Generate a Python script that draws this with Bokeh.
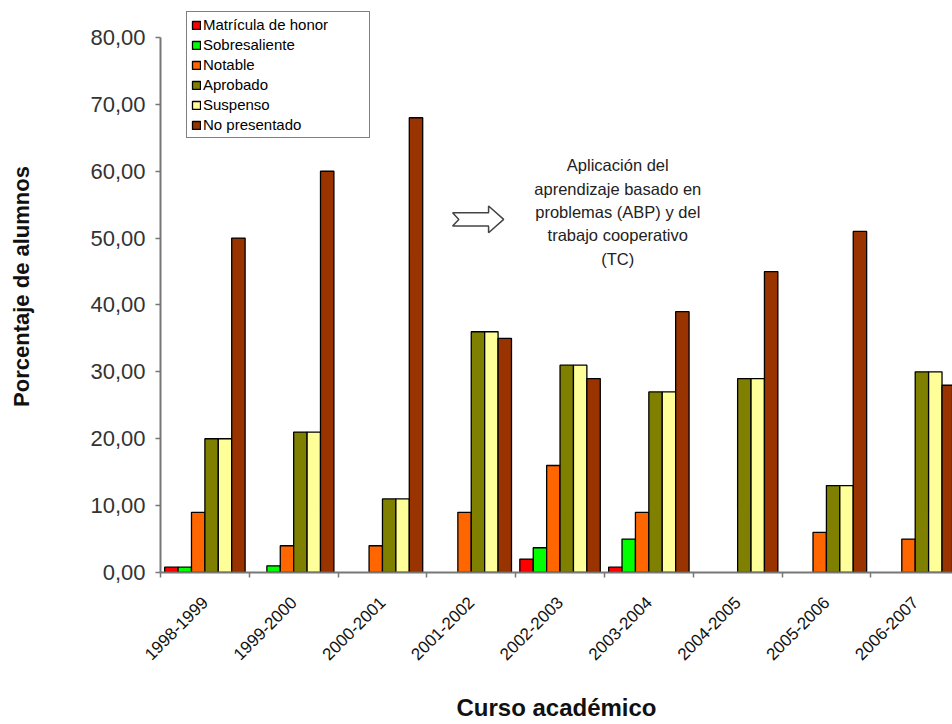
import math

from bokeh.core.properties import value
from bokeh.embed import file_html
from bokeh.models import (ColumnDataSource, CustomJSTickFormatter, FixedTicker,
                          Legend, LegendItem, Range1d)
from bokeh.plotting import figure
from bokeh.resources import INLINE
from bokeh.transform import dodge

# Academic years
cursos = ["1998-1999", "1999-2000", "2000-2001", "2001-2002", "2002-2003",
          "2003-2004", "2004-2005", "2005-2006", "2006-2007"]

# Percentage of students per grade
matricula = [0.8, 0, 0, 0, 2, 0.8, 0, 0, 0]
sobresaliente = [0.8, 1, 0, 0, 3.7, 5, 0, 0, 0]
notable = [9, 4, 4, 9, 16, 9, 0, 6, 5]
aprobado = [20, 21, 11, 36, 31, 27, 29, 13, 30]
suspenso = [20, 21, 11, 36, 31, 27, 29, 13, 30]
no_presentado = [50, 60, 68, 35, 29, 39, 45, 51, 28]

series_names = ["Matrícula de honor", "Sobresaliente", "Notable",
                "Aprobado", "Suspenso", "No presentado"]
series_values = [matricula, sobresaliente, notable, aprobado, suspenso, no_presentado]
series_colors = ["#FF0000", "#00FF00", "#FF6600", "#808000", "#FFFF99", "#993300"]

y_ticks = list(range(0, 81, 10))

nota_lines = ["Aplicación del", "aprendizaje basado en", "problemas (ABP) y del",
              "trabajo cooperativo", "(TC)"]

FONT = "Liberation Sans"
BAR_W = 0.151

# the frame reaches the top edge so the legend box can sit above the 80 line
p = figure(width=952, height=724, output_backend="svg", toolbar_location=None,
           x_range=Range1d(0, 8.92), y_range=Range1d(0, 85.53),
           min_border_left=160, min_border_right=0, min_border_top=0,
           min_border_bottom=152)
p.outline_line_color = None
p.xgrid.visible = False
p.ygrid.visible = False
p.background_fill_color = "white"

centers = [i + 0.5 for i in range(len(cursos))]

items = []
for k, (name, vals, col) in enumerate(zip(series_names, series_values, series_colors)):
    xs = [c for c, v in zip(centers, vals) if v > 0]
    ys = [v for v in vals if v > 0]
    src = ColumnDataSource(dict(center=xs, top=ys))
    r = p.vbar(x=dodge("center", (k - 2.5) * BAR_W), top="top", bottom=0,
               width=BAR_W, source=src, fill_color=col,
               line_color="black", line_width=1.3)
    items.append(LegendItem(label=name, renderers=[r]))

legend = Legend(items=items, location=(26, 434))
legend.label_text_font = FONT
legend.label_text_font_size = "15px"
legend.label_text_color = "#000000"
legend.glyph_width = 10
legend.glyph_height = 10
legend.label_height = 15
legend.label_width = 162
legend.label_standoff = 2
legend.spacing = 3
legend.padding = 4
legend.margin = 0
legend.border_line_color = "black"
legend.border_line_width = 1.5
legend.background_fill_color = "white"
legend.background_fill_alpha = 1.0
p.add_layout(legend)

# x axis: tick marks between the years, labels centred on each group
xa = p.xaxis[0]
xa.ticker = FixedTicker(ticks=centers, minor_ticks=list(range(len(cursos) + 1)))
xa.formatter = CustomJSTickFormatter(args=dict(labels=cursos),
                                     code="return labels[Math.floor(tick)];")
xa.major_label_orientation = math.pi / 4
xa.major_tick_line_color = None
xa.major_tick_out = 5
xa.major_tick_in = 0
xa.minor_tick_line_color = "#777777"
xa.minor_tick_out = 5
xa.minor_tick_in = 0
xa.minor_tick_line_width = 1.5
xa.major_label_text_font = FONT
xa.major_label_text_font_size = "17px"
xa.major_label_text_color = "#111111"
xa.major_label_standoff = 22
xa.axis_line_color = "#777777"
xa.axis_line_width = 2
xa.axis_label = "Curso académico"
xa.axis_label_text_font = FONT
xa.axis_label_text_font_size = "24px"
xa.axis_label_text_font_style = "bold"
xa.axis_label_text_color = "#111111"
xa.axis_label_standoff = 26

ya = p.yaxis[0]
ya.bounds = (0, 80)
ya.ticker = FixedTicker(ticks=y_ticks, minor_ticks=[])
ya.formatter = CustomJSTickFormatter(code="return tick.toFixed(2).replace('.', ',');")
ya.major_tick_line_color = "#777777"
ya.major_tick_line_width = 1.5
ya.major_tick_out = 5
ya.major_tick_in = 0
ya.minor_tick_line_color = None
ya.major_label_text_font = FONT
ya.major_label_text_font_size = "22px"
ya.major_label_text_color = "#333333"
ya.major_label_standoff = 10
ya.axis_line_color = "#777777"
ya.axis_line_width = 2
ya.axis_label = "Porcentaje de alumnos"
ya.axis_label_text_font = FONT
ya.axis_label_text_font_size = "22px"
ya.axis_label_text_font_style = "bold"
ya.axis_label_text_color = "#111111"
ya.axis_label_standoff = 53

# note about the teaching method, with a hollow block arrow
nota_src = ColumnDataSource(dict(x=[5.15] * len(nota_lines),
                                 y=[60.9 - 3.5 * i for i in range(len(nota_lines))],
                                 t=nota_lines))
p.text(x="x", y="y", text="t", source=nota_src, text_align="center",
       text_baseline="middle", text_font=value(FONT), text_font_size="16.5px",
       text_color="#222222")

ax0, ay0 = 3.29, 52.8   # tail/centre of arrow
arrow_x = [ax0, ax0 + 0.405, ax0 + 0.405, ax0 + 0.575, ax0 + 0.405, ax0 + 0.405,
           ax0, ax0 + 0.07]
arrow_y = [ay0 + 1.0, ay0 + 1.0, ay0 + 2.0, ay0, ay0 - 2.0, ay0 - 1.0,
           ay0 - 1.0, ay0]
p.patch(arrow_x, arrow_y, fill_color="white", line_color="#444444", line_width=1.5)

open("out.html", "w").write(file_html(p, INLINE))
